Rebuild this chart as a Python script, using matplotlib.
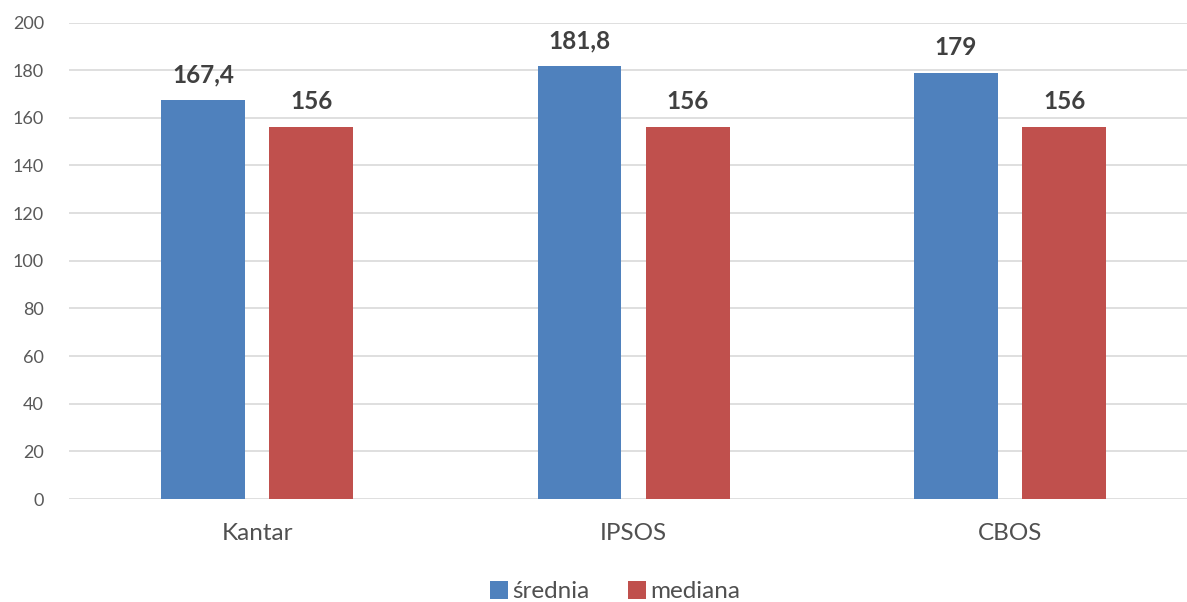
import matplotlib
matplotlib.use('Agg')
import matplotlib.pyplot as plt   # Se importa pyplot para generar la gráfica
import numpy as np   # Se importa numpy para las posiciones

plt.rcParams['font.family'] = ['Lato', 'DejaVu Sans']

# Datos del gráfico
categorias = ['Kantar', 'IPSOS', 'CBOS']
srednia = [167.4, 181.8, 179]
mediana = [156, 156, 156]
etiquetas_srednia = ['167,4', '181,8', '179']
etiquetas_mediana = ['156', '156', '156']
series = ['średnia', 'mediana']

fig = plt.figure(figsize=(11.87, 6.02), dpi=100)
ax = fig.add_axes([0.058, 0.171, 0.942, 0.7916])

x = np.arange(len(categorias))
ancho = 0.223
desp = 0.1436
b1 = ax.bar(x - desp, srednia, ancho, color='#4F81BD', label=series[0], zorder=3)
b2 = ax.bar(x + desp, mediana, ancho, color='#C0504D', label=series[1], zorder=3)

# Etiquetas de datos
for barras, textos in ((b1, etiquetas_srednia), (b2, etiquetas_mediana)):
    for b, t in zip(barras, textos):
        ax.annotate(t, (b.get_x() + b.get_width() / 2, b.get_height()),
                    xytext=(0, 10), textcoords='offset points',
                    ha='center', va='bottom', fontsize=17.5, fontweight='bold',
                    color='#404040')

ax.set_ylim(0, 200)
ax.set_yticks(range(0, 201, 20))
ax.set_xlim(-0.5, 2.47)
ax.set_xticks(x)
ax.set_xticklabels(categorias)
ax.grid(axis='y', color='#D9D9D9', linewidth=1.2, zorder=0)
for s in ax.spines.values():
    s.set_visible(False)
ax.tick_params(axis='y', length=0, labelsize=13, labelcolor='#595959', pad=18)
ax.tick_params(axis='x', length=0, labelsize=17.5, labelcolor='#505050', pad=17)

fig.legend(loc='center', bbox_to_anchor=(0.518, 0.017), ncol=2, frameon=False,
           fontsize=17.5, handlelength=0.75, handleheight=0.75, handletextpad=0.15,
           columnspacing=1.6, labelcolor='#505050')

fig.savefig('out.png', dpi=100)
